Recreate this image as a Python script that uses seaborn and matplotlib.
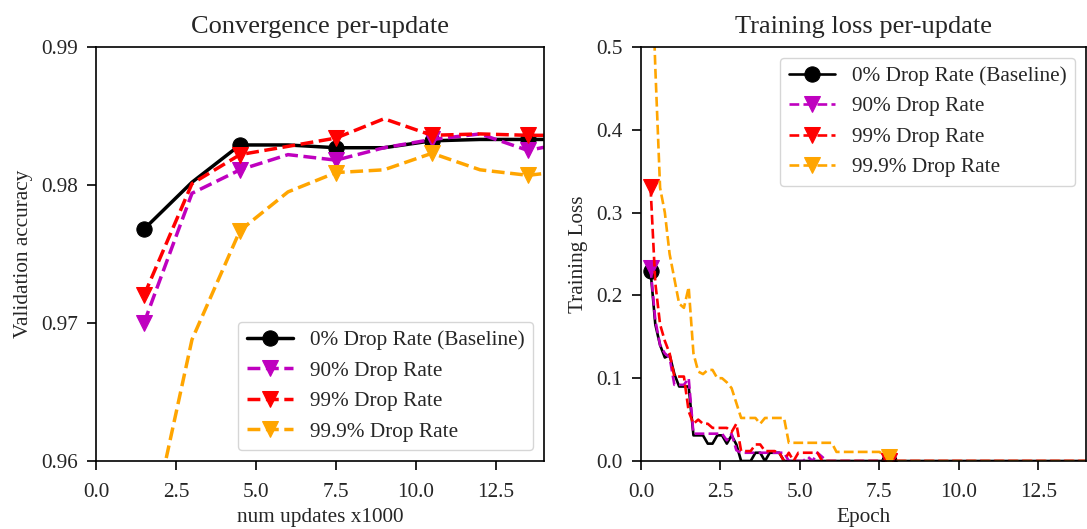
import numpy as np
import pandas as pd
import matplotlib
matplotlib.use("Agg")
import matplotlib.pyplot as plt
import seaborn as sns

# ---------------- data: left panel (validation accuracy) ----------------
updates_k = [1.5, 3.0, 4.5, 6.0, 7.5, 9.0, 10.5, 12.0, 13.5, 15.0]
acc_base = [0.9768, 0.9802, 0.9829, 0.9829, 0.9827, 0.9827, 0.9832, 0.9833, 0.9833, 0.9833]
acc_90 = [0.9700, 0.9794, 0.9811, 0.9822, 0.9818, 0.9827, 0.9833, 0.9837, 0.9825, 0.9832]
acc_99 = [0.9720, 0.9801, 0.9822, 0.9828, 0.9834, 0.9848, 0.9836, 0.9837, 0.9836, 0.9836]
acc_999 = [0.9528, 0.9688, 0.9767, 0.9795, 0.9809, 0.9811, 0.9823, 0.9811, 0.9807, 0.9811]

# ---------------- data: right panel (training loss per update) ----------------
epoch_start = 0.3
epoch_step = 0.15
loss_base = [0.230, 0.165, 0.140, 0.125, 0.128, 0.105, 0.090, 0.090, 0.090, 0.031,
             0.031, 0.031, 0.021, 0.021, 0.031, 0.031, 0.021, 0.031, 0.020, 0.000,
             0.000, 0.000, 0.010, 0.010, 0.000, 0.010, 0.010, 0.010, 0.000, 0.000,
             0.000, 0.000, 0.000, 0.000, 0.000, 0.000, 0.000, 0.000, 0.000, 0.000,
             0.000, 0.000, 0.000, 0.000, 0.000, 0.000, 0.000, 0.000, 0.000, 0.000,
             0.000, 0.000, 0.000, 0.000, 0.000, 0.000, 0.000, 0.000, 0.000, 0.000,
             0.000, 0.000, 0.000, 0.000, 0.000, 0.000, 0.000, 0.000, 0.000, 0.000,
             0.000, 0.000, 0.000, 0.000, 0.000, 0.000, 0.000, 0.000, 0.000, 0.000,
             0.000, 0.000, 0.000, 0.000, 0.000, 0.000, 0.000, 0.000, 0.000, 0.000,
             0.000, 0.000, 0.000]
loss_90 = [0.233, 0.170, 0.140, 0.130, 0.125, 0.092, 0.092, 0.092, 0.100, 0.033,
           0.033, 0.033, 0.033, 0.033, 0.033, 0.033, 0.025, 0.033, 0.013, 0.010,
           0.010, 0.010, 0.010, 0.010, 0.010, 0.010, 0.010, 0.010, 0.010, 0.000,
           0.000, 0.000, 0.000, 0.005, 0.000, 0.010, 0.005, 0.000, 0.000, 0.000,
           0.000, 0.000, 0.000, 0.000, 0.000, 0.000, 0.000, 0.000, 0.000, 0.000,
           0.000, 0.000, 0.000, 0.000, 0.000, 0.000, 0.000, 0.000, 0.000, 0.000,
           0.000, 0.000, 0.000, 0.000, 0.000, 0.000, 0.000, 0.000, 0.000, 0.000,
           0.000, 0.000, 0.000, 0.000, 0.000, 0.000, 0.000, 0.000, 0.000, 0.000,
           0.000, 0.000, 0.000, 0.000, 0.000, 0.000, 0.000, 0.000, 0.000, 0.000,
           0.000, 0.000, 0.000]
loss_99 = [0.331, 0.215, 0.165, 0.145, 0.130, 0.102, 0.102, 0.102, 0.060, 0.045,
           0.050, 0.045, 0.045, 0.040, 0.040, 0.040, 0.040, 0.035, 0.045, 0.012,
           0.012, 0.012, 0.020, 0.020, 0.012, 0.012, 0.012, 0.010, 0.000, 0.010,
           0.000, 0.010, 0.010, 0.010, 0.010, 0.010, 0.000, 0.000, 0.000, 0.000,
           0.000, 0.000, 0.000, 0.000, 0.000, 0.000, 0.000, 0.000, 0.000, 0.000,
           0.000, 0.000, 0.000, 0.000, 0.000, 0.000, 0.000, 0.000, 0.000, 0.000,
           0.000, 0.000, 0.000, 0.000, 0.000, 0.000, 0.000, 0.000, 0.000, 0.000,
           0.000, 0.000, 0.000, 0.000, 0.000, 0.000, 0.000, 0.000, 0.000, 0.000,
           0.000, 0.000, 0.000, 0.000, 0.000, 0.000, 0.000, 0.000, 0.000, 0.000,
           0.000, 0.000, 0.000]
loss_999 = [0.650, 0.475, 0.330, 0.300, 0.250, 0.220, 0.190, 0.185, 0.210, 0.130,
            0.108, 0.105, 0.110, 0.110, 0.100, 0.100, 0.095, 0.088, 0.070, 0.052,
            0.052, 0.052, 0.052, 0.045, 0.052, 0.052, 0.052, 0.052, 0.052, 0.022,
            0.022, 0.022, 0.022, 0.022, 0.022, 0.022, 0.022, 0.022, 0.022, 0.011,
            0.011, 0.011, 0.011, 0.011, 0.011, 0.011, 0.011, 0.011, 0.011, 0.007,
            0.005, 0.000, 0.000, 0.000, 0.000, 0.000, 0.000, 0.000, 0.000, 0.000,
            0.000, 0.000, 0.000, 0.000, 0.000, 0.000, 0.000, 0.000, 0.000, 0.000,
            0.000, 0.000, 0.000, 0.000, 0.000, 0.000, 0.000, 0.000, 0.000, 0.000,
            0.000, 0.000, 0.000, 0.000, 0.000, 0.000, 0.000, 0.000, 0.000, 0.000,
            0.000, 0.000, 0.000]

labels = ["0% Drop Rate (Baseline)", "90% Drop Rate", "99% Drop Rate", "99.9% Drop Rate"]
colors = ["black", "m", "red", "orange"]
markers = ["o", "v", "v", "v"]
styles = ["-", "--", "--", "--"]
xtick_labels = ["0.0", "2.5", "5.0", "7.5", "10.0", "12.5"]
acc_tick_labels = ["0.96", "0.97", "0.98", "0.99"]
loss_tick_labels = ["0.0", "0.1", "0.2", "0.3", "0.4", "0.5"]

sns.set_style("ticks")
plt.rcParams["font.family"] = ["Liberation Serif", "DejaVu Serif"]

FS = 15.3
fig = plt.figure(figsize=(10.87, 5.29), dpi=100)
ax1 = fig.add_axes([0.0883, 0.1285, 0.4122, 0.7827])
ax2 = fig.add_axes([0.5897, 0.1285, 0.4094, 0.7827])

# left panel
acc_series = [acc_base, acc_90, acc_99, acc_999]
for vals, lab, c, m, ls in zip(acc_series, labels, colors, markers, styles):
    df = pd.DataFrame({"x": updates_k, "y": vals})
    sns.lineplot(data=df, x="x", y="y", ax=ax1, color=c, marker=m, markersize=11,
                 linestyle=ls, linewidth=2.5, markevery=2, label=lab,
                 markeredgecolor=c, sort=False, estimator=None)
ax1.set_xlim(0, 14)
ax1.set_ylim(0.96, 0.99)
ax1.set_xticks([0.0, 2.5, 5.0, 7.5, 10.0, 12.5])
ax1.set_yticks([0.96, 0.97, 0.98, 0.99])
ax1.set_xticklabels(xtick_labels)
ax1.set_yticklabels(acc_tick_labels)
ax1.set_xlabel("num updates x1000", fontsize=FS, labelpad=4)
ax1.set_ylabel("Validation accuracy", fontsize=FS, labelpad=6)
ax1.set_title("Convergence per-update", fontsize=19, pad=10)
ax1.legend(loc="lower right", fontsize=FS, frameon=True, borderpad=0.4,
           handlelength=2.2, labelspacing=0.5)

# right panel
n = len(loss_base)
epochs = epoch_start + epoch_step * np.arange(n)
loss_series = [loss_base, loss_90, loss_99, loss_999]
for vals, lab, c, m, ls in zip(loss_series, labels, colors, markers, styles):
    df = pd.DataFrame({"x": epochs, "y": vals})
    sns.lineplot(data=df, x="x", y="y", ax=ax2, color=c, marker=m, markersize=11,
                 linestyle=ls, linewidth=1.9, markevery=50, label=lab,
                 markeredgecolor=c, sort=False, estimator=None)
ax2.set_xlim(0, 14)
ax2.set_ylim(0.0, 0.5)
ax2.set_xticks([0.0, 2.5, 5.0, 7.5, 10.0, 12.5])
ax2.set_yticks([0.0, 0.1, 0.2, 0.3, 0.4, 0.5])
ax2.set_xticklabels(xtick_labels)
ax2.set_yticklabels(loss_tick_labels)
ax2.set_xlabel("Epoch", fontsize=FS, labelpad=4)
ax2.set_ylabel("Training Loss", fontsize=FS, labelpad=6)
ax2.set_title("Training loss per-update", fontsize=19, pad=10)
ax2.legend(loc="upper right", fontsize=FS, frameon=True, borderpad=0.4,
           handlelength=2.2, labelspacing=0.5)

for ax in (ax1, ax2):
    ax.tick_params(axis="both", labelsize=FS, length=6.5, width=1.2, direction="out",
                   color="black")
    ax.tick_params(axis="y", pad=6.5)
    ax.tick_params(axis="x", pad=9.5)
    for sp in ax.spines.values():
        sp.set_color("black")
        sp.set_linewidth(1.2)
    ax.grid(False)

fig.savefig("out.png", dpi=100)
